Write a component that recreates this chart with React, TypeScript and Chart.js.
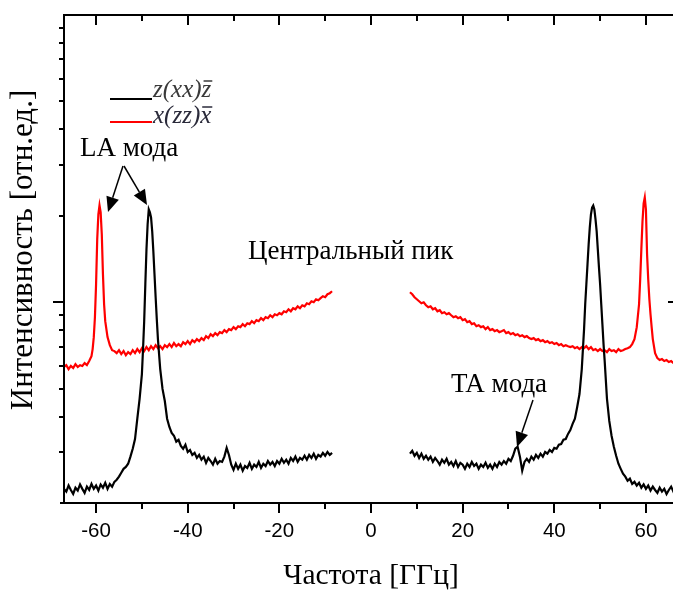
import React, { useEffect, useRef } from "react";
import { Chart, registerables } from "chart.js";

Chart.register(...registerables);

// Frequency (GHz) / intensity (arb. units, log axis)
const blackLeft: [number, number][] = [
  [-67,224],[-66.5,219],[-66,230],[-65.5,222],[-65,215],[-64.5,226],[-64,221],[-63.5,232],[-63,224],[-62.5,217],[-62,228],[-61.5,222],[-61,233],[-60.5,224],[-60,230],[-59.5,221],[-59,232],[-58.5,226],[-58,235],[-57.5,224],[-57,233],[-56.5,228],[-56,237],[-55.5,241],[-55,247],[-54.5,255],[-54,263],[-53.5,267],[-53,274],[-52.5,290],[-52,309],[-51.5,334],[-51,393],[-50.5,461],[-50,562],[-49.75,687],[-49.5,859],[-49.25,1155],[-49,1528],[-48.75,1866],[-48.5,2103],[-48.25,2054],[-48,1973],[-47.75,1765],[-47.5,1504],[-47.25,1251],[-47,1041],[-46.75,873],[-46.5,744],[-46,585],[-45.5,499],[-45,453],[-44.5,393],[-44,368],[-43.5,351],[-43,343],[-42.5,327],[-42,332],[-41.5,316],[-41,309],[-40.5,319],[-40,301],[-39.5,306],[-39,294],[-38.5,299],[-38,287],[-37.5,294],[-37,283],[-36.5,290],[-36,276],[-35.5,287],[-35,280],[-34.5,272],[-34,285],[-33.5,274],[-33,280],[-32.5,278],[-32,290],[-31.5,311],[-31,294],[-30.5,272],[-30,261],[-29.5,274],[-29,263],[-28.5,272],[-28,259],[-27.5,269],[-27,265],[-26.5,276],[-26,263],[-25.5,272],[-25,267],[-24.5,278],[-24,265],[-23.5,274],[-23,269],[-22.5,280],[-22,272],[-21.5,278],[-21,269],[-20.5,280],[-20,274],[-19.5,285],[-19,276],[-18.5,283],[-18,274],[-17.5,287],[-17,280],[-16.5,290],[-16,278],[-15.5,287],[-15,283],[-14.5,292],[-14,283],[-13.5,294],[-13,287],[-12.5,297],[-12,285],[-11.5,294],[-11,290],[-10.5,299],[-10,292],[-9.5,301],[-9,294],[-8.5,299]
];
const blackRight: [number, number][] = [
  [8.5,297],[9,304],[9.5,292],[10,299],[10.5,287],[11,297],[11.5,285],[12,292],[12.5,283],[13,290],[13.5,278],[14,287],[14.5,280],[15,272],[15.5,283],[16,276],[16.5,285],[17,272],[17.5,278],[18,269],[18.5,280],[19,267],[19.5,276],[20,272],[20.5,263],[21,274],[21.5,267],[22,278],[22.5,269],[23,274],[23.5,263],[24,272],[24.5,267],[25,276],[25.5,265],[26,272],[26.5,263],[27,274],[27.5,267],[28,278],[28.5,272],[29,280],[29.5,274],[30,285],[30.5,280],[31,292],[31.5,309],[32,314],[32.5,290],[33,259],[33.5,278],[34,285],[34.5,278],[35,290],[35.5,283],[36,294],[36.5,287],[37,297],[37.5,290],[38,301],[38.5,297],[39,306],[39.5,301],[40,311],[40.5,309],[41,319],[41.5,321],[42,332],[42.5,334],[43,348],[43.5,359],[44,377],[44.5,393],[45,432],[45.5,479],[46,585],[46.25,687],[46.5,806],[46.75,984],[47,1155],[47.25,1355],[47.5,1590],[47.75,1822],[48,2021],[48.25,2137],[48.5,2172],[48.75,2103],[49,1942],[49.25,1765],[49.5,1528],[49.75,1323],[50,1155],[50.25,984],[50.5,839],[50.75,715],[51,624],[51.5,461],[52,386],[52.5,343],[53,314],[53.5,292],[54,274],[54.5,263],[55,253],[55.5,247],[56,239],[56.5,243],[57,233],[57.5,237],[58,230],[58.5,235],[59,226],[59.5,232],[60,224],[60.5,230],[61,221],[61.5,228],[62,222],[62.5,217],[63,226],[63.5,219],[64,224],[64.5,215],[65,222],[65.5,228],[66,219],[66.5,224],[67,221]
];
const redLeft: [number, number][] = [
  [-67,595],[-66.5,604],[-66,585],[-65.5,600],[-65,590],[-64.5,609],[-64,595],[-63.5,604],[-63,600],[-62.5,614],[-62,604],[-61.5,624],[-61,649],[-60.75,687],[-60.5,756],[-60.25,887],[-60,1155],[-59.75,1655],[-59.5,2021],[-59.25,2172],[-59,2054],[-58.75,1722],[-58.5,1251],[-58.25,984],[-58,859],[-57.5,756],[-57,709],[-56.5,681],[-56,676],[-55.5,665],[-55,681],[-54.5,660],[-54,676],[-53.5,654],[-53,670],[-52.5,660],[-52,681],[-51.5,665],[-51,687],[-50.5,670],[-50,692],[-49.5,676],[-49,698],[-48.5,681],[-48,703],[-47.5,687],[-47,709],[-46.5,692],[-46,703],[-45.5,687],[-45,709],[-44.5,698],[-44,715],[-43.5,698],[-43,721],[-42.5,703],[-42,715],[-41.5,703],[-41,726],[-40.5,715],[-40,732],[-39.5,715],[-39,738],[-38.5,726],[-38,744],[-37.5,732],[-37,750],[-36.5,738],[-36,762],[-35.5,750],[-35,774],[-34.5,762],[-34,781],[-33.5,768],[-33,787],[-32.5,781],[-32,800],[-31.5,787],[-31,806],[-30.5,800],[-30,819],[-29.5,806],[-29,825],[-28.5,819],[-28,839],[-27.5,825],[-27,845],[-26.5,839],[-26,859],[-25.5,845],[-25,866],[-24.5,859],[-24,880],[-23.5,866],[-23,887],[-22.5,880],[-22,901],[-21.5,887],[-21,908],[-20.5,901],[-20,916],[-19.5,908],[-19,930],[-18.5,923],[-18,945],[-17.5,930],[-17,953],[-16.5,945],[-16,968],[-15.5,953],[-15,976],[-14.5,968],[-14,992],[-13.5,984],[-13,1008],[-12.5,1000],[-12,1024],[-11.5,1016],[-11,1033],[-10.5,1049],[-10,1041],[-9.5,1066],[-9,1075],[-8.5,1092]
];
const redRight: [number, number][] = [
  [8.5,1083],[9,1066],[9.5,1041],[10,1024],[10.5,1008],[11,992],[11.5,1000],[12,976],[12.5,961],[13,968],[13.5,945],[14,953],[14.5,930],[15,938],[15.5,916],[16,923],[16.5,908],[17,916],[17.5,901],[18,887],[18.5,894],[19,880],[19.5,887],[20,866],[20.5,873],[21,852],[21.5,859],[22,839],[22.5,845],[23,825],[23.5,832],[24,819],[24.5,825],[25,806],[25.5,819],[26,800],[26.5,806],[27,793],[27.5,800],[28,787],[28.5,793],[29,800],[29.5,781],[30,787],[30.5,774],[31,781],[31.5,768],[32,774],[32.5,762],[33,768],[33.5,756],[34,762],[34.5,750],[35,744],[35.5,750],[36,738],[36.5,744],[37,732],[37.5,738],[38,726],[38.5,732],[39,721],[39.5,726],[40,715],[40.5,721],[41,709],[41.5,715],[42,703],[42.5,709],[43,703],[43.5,698],[44,703],[44.5,692],[45,698],[45.5,687],[46,698],[46.5,692],[47,703],[47.5,687],[48,698],[48.5,681],[49,687],[49.5,676],[50,687],[50.5,676],[51,681],[51.5,670],[52,687],[52.5,676],[53,681],[53.5,670],[54,687],[54.5,676],[55,681],[55.5,687],[56,692],[56.5,698],[57,715],[57.5,744],[58,819],[58.5,984],[58.75,1202],[59,1528],[59.25,1911],[59.5,2207],[59.75,2315],[60,2103],[60.25,1468],[60.5,1202],[60.75,1024],[61,908],[61.25,819],[61.5,744],[62,665],[62.5,639],[63,629],[63.5,634],[64,624],[64.5,629],[65,619],[65.5,624],[66,614],[66.5,619],[67,614]
];

const xMajorTicks = [-60, -40, -20, 0, 20, 40, 60];
const xMinorTicks = [-50, -30, -10, 10, 30, 50];
const yMajorTicks = [1000];
const yMinorTicks = [300, 400, 500, 600, 700, 800, 900, 2000, 3000, 4000, 5000, 6000, 7000, 8000, 9000];
const X_MIN = -67;
const X_MAX = 67;
const Y_MIN = 200;
const Y_MAX = 10000;

const xTitle = "Частота [ГГц]";
const yTitle = "Интенсивность [отн.ед.]";
const legendLabels = ["z(xx)z", "x(zz)x"];
const seriesColors = ["#000000", "#ff0000"];
const annLA = "LA мода";
const annCentral = "Центральный пик";
const annTA = "TA мода";

const SERIF = "'Liberation Serif', 'Times New Roman', serif";

function drawArrow(ctx: CanvasRenderingContext2D, x0: number, y0: number, x1: number, y1: number) {
  const headLen = 15;
  const headW = 6.5;
  const ang = Math.atan2(y1 - y0, x1 - x0);
  const bx = x1 - headLen * Math.cos(ang);
  const by = y1 - headLen * Math.sin(ang);
  ctx.beginPath();
  ctx.moveTo(x0, y0);
  ctx.lineTo(bx, by);
  ctx.stroke();
  ctx.beginPath();
  ctx.moveTo(x1, y1);
  ctx.lineTo(bx + headW * Math.sin(ang), by - headW * Math.cos(ang));
  ctx.lineTo(bx - headW * Math.sin(ang), by + headW * Math.cos(ang));
  ctx.closePath();
  ctx.fill();
}

function drawBarredText(ctx: CanvasRenderingContext2D, text: string, x: number, y: number) {
  ctx.textAlign = "left";
  ctx.textBaseline = "alphabetic";
  ctx.fillText(text, x, y);
  const prefix = text.slice(0, -1);
  const pw = ctx.measureText(prefix).width;
  const lw = ctx.measureText(text.slice(-1)).width;
  ctx.beginPath();
  ctx.lineWidth = 1.5;
  ctx.moveTo(x + pw + 2, y - 16);
  ctx.lineTo(x + pw + lw + 1, y - 16);
  ctx.stroke();
}

const decorPlugin = {
  id: "decor",
  afterDatasetsDraw(chart: any) {
    const ctx: CanvasRenderingContext2D = chart.ctx;
    const { left, right, top, bottom } = chart.chartArea;
    const xs = chart.scales.x;
    const ys = chart.scales.y;
    ctx.save();
    ctx.strokeStyle = "#000";
    ctx.fillStyle = "#000";
    ctx.lineWidth = 2;
    // frame
    ctx.beginPath();
    ctx.moveTo(left - 1, top);
    ctx.lineTo(right, top);
    ctx.moveTo(left, top);
    ctx.lineTo(left, bottom);
    ctx.moveTo(left - 4, bottom);
    ctx.lineTo(right, bottom);
    ctx.moveTo(right, top);
    ctx.lineTo(right, bottom);
    ctx.stroke();
    // x ticks
    ctx.lineWidth = 2;
    ctx.beginPath();
    for (const v of xMajorTicks) {
      const p = Math.round(xs.getPixelForValue(v));
      ctx.moveTo(p, bottom);
      ctx.lineTo(p, bottom + 10);
      ctx.moveTo(p, top);
      ctx.lineTo(p, top + 10);
    }
    for (const v of xMinorTicks) {
      const p = Math.round(xs.getPixelForValue(v));
      ctx.moveTo(p, bottom);
      ctx.lineTo(p, bottom + 6);
      ctx.moveTo(p, top);
      ctx.lineTo(p, top + 6);
    }
    // y ticks
    for (const v of yMajorTicks) {
      const p = Math.round(ys.getPixelForValue(v));
      ctx.moveTo(left - 11, p);
      ctx.lineTo(left, p);
      ctx.moveTo(right - 10, p);
      ctx.lineTo(right, p);
    }
    for (const v of yMinorTicks) {
      const p = Math.round(ys.getPixelForValue(v));
      ctx.moveTo(left - 5, p);
      ctx.lineTo(left, p);
      ctx.moveTo(right - 5, p);
      ctx.lineTo(right, p);
    }
    ctx.stroke();

    // legend
    ctx.lineWidth = 2;
    ctx.strokeStyle = seriesColors[0];
    ctx.beginPath();
    ctx.moveTo(110, 99);
    ctx.lineTo(152, 99);
    ctx.stroke();
    ctx.strokeStyle = seriesColors[1];
    ctx.beginPath();
    ctx.moveTo(110, 122);
    ctx.lineTo(152, 122);
    ctx.stroke();
    ctx.font = "italic 25px " + SERIF;
    ctx.fillStyle = "#3a3a3a";
    ctx.strokeStyle = "#3a3a3a";
    drawBarredText(ctx, legendLabels[0], 153, 97);
    ctx.fillStyle = "#2a2a3a";
    ctx.strokeStyle = "#2a2a3a";
    drawBarredText(ctx, legendLabels[1], 153, 123);

    // annotations
    ctx.fillStyle = "#000";
    ctx.strokeStyle = "#000";
    ctx.font = "27px " + SERIF;
    ctx.textAlign = "left";
    ctx.textBaseline = "alphabetic";
    ctx.fillText(annLA, 80, 156);
    ctx.fillText(annCentral, 248, 259);
    ctx.fillText(annTA, 451, 392);
    ctx.lineWidth = 1.5;
    drawArrow(ctx, 123, 166, 108, 212);
    drawArrow(ctx, 124, 166, 147, 205);
    drawArrow(ctx, 533, 400, 517, 447);

    // axis titles
    ctx.font = "29.5px " + SERIF;
    ctx.textAlign = "center";
    ctx.fillText(xTitle, xs.getPixelForValue(0), 584);
    ctx.save();
    ctx.font = "31px " + SERIF;
    ctx.translate(32, (top + bottom) / 2 - 9);
    ctx.rotate(-Math.PI / 2);
    ctx.textAlign = "center";
    ctx.textBaseline = "alphabetic";
    ctx.fillText(yTitle, 0, 0);
    ctx.restore();
    ctx.restore();
  },
};

const GAP = { x: 0, y: null as number | null };
const toPoints = (a: [number, number][], b: [number, number][]) => [
  ...a.map(([x, y]) => ({ x, y })),
  GAP,
  ...b.map(([x, y]) => ({ x, y })),
];

export default function App() {
  const ref = useRef<HTMLCanvasElement>(null);
  useEffect(() => {
    const canvas = ref.current;
    if (!canvas) return;
    const chart = new Chart(canvas, {
      type: "line",
      data: {
        datasets: [
          {
            label: legendLabels[0],
            data: toPoints(blackLeft, blackRight) as any,
            borderColor: seriesColors[0],
            borderWidth: 2.2,
            pointRadius: 0,
            tension: 0,
            fill: false,
            spanGaps: false,
          },
          {
            label: legendLabels[1],
            data: toPoints(redLeft, redRight) as any,
            borderColor: seriesColors[1],
            borderWidth: 2.2,
            pointRadius: 0,
            tension: 0,
            fill: false,
            spanGaps: false,
          },
        ],
      },
      options: {
        animation: false,
        responsive: false,
        devicePixelRatio: 1,
        events: [],
        layout: { padding: { top: 15, right: 22, left: 0, bottom: 0 } },
        plugins: { legend: { display: false }, tooltip: { enabled: false } },
        scales: {
          x: {
            type: "linear",
            min: X_MIN,
            max: X_MAX,
            afterBuildTicks: (s: any) => {
              s.ticks = xMajorTicks.map((v) => ({ value: v }));
            },
            afterFit: (s: any) => {
              s.height = 87;
            },
            grid: { display: false, drawTicks: false },
            border: { display: false },
            ticks: {
              font: { family: "'Liberation Sans', Arial, sans-serif", size: 20.5 },
              color: "#000",
              padding: 16,
              maxRotation: 0,
              autoSkip: false,
              callback: (v: any) => String(v),
            },
          },
          y: {
            type: "logarithmic",
            min: Y_MIN,
            max: Y_MAX,
            afterFit: (s: any) => {
              s.width = 64;
            },
            grid: { display: false, drawTicks: false },
            border: { display: false },
            ticks: { display: false },
          },
        },
      },
      plugins: [decorPlugin],
    });
    return () => chart.destroy();
  }, []);
  return (
    <div
      style={{
        position: "fixed",
        left: 0,
        top: 0,
        width: 673,
        height: 590,
        overflow: "hidden",
        background: "#fff",
      }}
    >
      <canvas ref={ref} width={700} height={590} style={{ display: "block", width: 700, height: 590 }} />
    </div>
  );
}
